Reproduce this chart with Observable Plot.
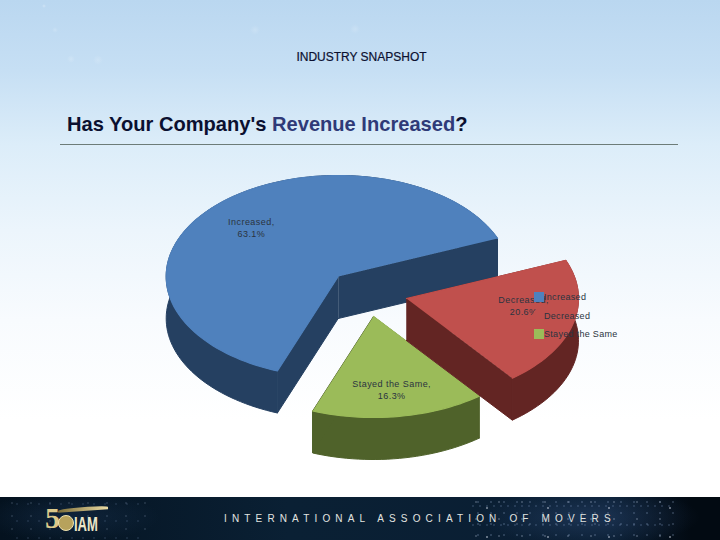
<!DOCTYPE html>
<html><head><meta charset="utf-8">
<script src="https://cdn.jsdelivr.net/npm/d3@7"></script>
<script src="https://cdn.jsdelivr.net/npm/@observablehq/plot@0.6"></script>
<style>
html,body{margin:0;padding:0}
body{position:relative;width:720px;height:540px;overflow:hidden;font-family:"Liberation Sans",Arial,sans-serif;
 background:
  radial-gradient(circle 5px at 98px 60px,rgba(255,255,255,.16),transparent),
  radial-gradient(circle 5px at 355px 29px,rgba(255,255,255,.16),transparent),
  radial-gradient(circle 4px at 71px 59px,rgba(255,255,255,.18),transparent),
  radial-gradient(circle 3px at 55px 30px,rgba(255,255,255,.18),transparent),
  radial-gradient(circle 5px at 255px 30px,rgba(255,255,255,.16),transparent),
  radial-gradient(circle 2px at 44px 6px,rgba(255,255,255,.3),transparent),
  linear-gradient(180deg,#bad7f0 0px,#c6dff4 70px,#dcedf9 145px,#ecf5fc 230px,#f8fbfe 320px,#ffffff 420px);}
#head{height:145px;position:relative}
#kicker{position:absolute;left:0;width:723px;top:50px;text-align:center;font-size:12px;line-height:15px;color:#0b1030;-webkit-text-stroke:.2px #0b1030}
#title{position:absolute;left:67px;top:113px;font-size:20.1px;line-height:22px;font-weight:bold;color:#0b1030;white-space:nowrap}
#title span{color:#2f3a78}
#rule{position:absolute;left:60px;top:144px;width:618px;height:1px;background:#6d7c78}
#legend{position:absolute;left:534px;top:288px;font-size:9px;letter-spacing:.3px;color:#2b3440}
#legend div{display:flex;align-items:center;height:18.5px}
#legend i{display:block;width:10px;height:10px;margin-right:0}
#chart svg{display:block}
#foot{position:absolute;left:0;top:497px;width:720px;height:43px;overflow:hidden;
 background:
  radial-gradient(ellipse 110px 30px at 590px 20px,rgba(60,90,140,.35),transparent),
  radial-gradient(ellipse 90px 25px at 70px 20px,rgba(40,70,110,.3),transparent),
  linear-gradient(90deg,#04121f 0,#0a2034 40%,#0a1e33 85%,#020a12 96%,#020a12 100%);}
#stars{position:absolute;left:470px;top:0;width:205px;height:43px;opacity:.75;
 background:
  radial-gradient(circle 1px at 6px 5px,#d4e0f5,transparent) 0 0/23px 17px,
  radial-gradient(circle 1px at 3px 3px,#9db4d8,transparent) 5px 2px/13px 11px,
  radial-gradient(circle 1.5px at 8px 8px,#eef4ff,transparent) 9px 3px/61px 29px,
  radial-gradient(circle 1px at 2px 2px,#7f98c0,transparent) 1px 7px/7px 19px;}
#stars2{position:absolute;left:8px;top:0;width:140px;height:43px;opacity:.5;
 background:
  radial-gradient(circle 1px at 4px 6px,#a9bcd8,transparent) 0 0/19px 13px,
  radial-gradient(circle 1px at 3px 3px,#7f98c0,transparent) 6px 4px/11px 17px;}
#org{position:absolute;left:224px;top:15px;font-size:10px;line-height:13px;letter-spacing:5.15px;color:#e2e4e0;white-space:nowrap;font-family:"Liberation Sans",sans-serif}
#five{position:absolute;left:45px;top:6px;font:bold 30px/30px "Liberation Serif",serif;color:#dcc98a}
#globe{position:absolute;left:58px;top:18px;width:16px;height:16px;border-radius:50%;background:#b7a25c;border:1px solid #efe3b0;box-sizing:border-box}
#iam{position:absolute;left:74px;top:16px;font:bold 21px/21px "Liberation Sans",sans-serif;color:#ece6c8;transform:scaleX(.62);transform-origin:0 0}
#swoosh{position:absolute;left:58px;top:10px;width:50px;height:4px;border-radius:60% 40% 0 0;background:linear-gradient(90deg,#7d6e38,#ecdca4);transform:rotate(-4deg)}
</style></head>
<body>
<div id="head">
 <div id="kicker">INDUSTRY SNAPSHOT</div>
 <div id="title">Has Your Company's <span>Revenue Increased</span>?</div>
 <div id="rule"></div>
</div>
<div id="chart"></div>
<div id="legend"></div>
<div id="foot">
 <div id="stars"></div><div id="stars2"></div>
 <div id="swoosh"></div><div id="five">5</div><div id="globe"></div><div id="iam">IAM</div>
 <div id="org">INTERNATIONAL ASSOCIATION OF MOVERS</div>
</div>
<script>
const categories = ["Increased", "Decreased", "Stayed the Same"];
const shares = [63.1, 20.6, 16.3];
const topColors = ["#4f81bd", "#c0504d", "#9bbb59"];
const sideColors = ["#254061", "#632523", "#4f622a"];

// Pie geometry, in radius units of the tilted pie
const firstAngle = 200.7;          // degrees clockwise from 12 o'clock
const explodeX = [0.004, 0.401, 0.209];
const explodeY = [0, 0.218, 0.396];
const depth = 0.416;
const labelRadius = 0.705;
const labelNudgeY = [0, -0.115, 0.02];

const rad = d => d * Math.PI / 180;
let start = firstAngle;
const slices = categories.map((category, i) => {
  const sweep = shares[i] * 3.6, from = start;
  start += sweep;
  const n = Math.ceil(sweep / 2);
  const arc = d3.range(n + 1).map(k => {
    const a = rad(from + sweep * k / n);
    return {x: explodeX[i] + Math.sin(a), y: explodeY[i] - Math.cos(a)};
  });
  const apex = {x: explodeX[i], y: explodeY[i]};
  const mid = rad(from + sweep / 2);
  return {category, i, apex, arc,
    lx: explodeX[i] + labelRadius * Math.sin(mid),
    ly: explodeY[i] - labelRadius * Math.cos(mid) + labelNudgeY[i],
    label: `${category},\n${shares[i].toFixed(1)}%`};
});

const topRows = s => [s.apex, ...s.arc].map(p => ({...p, category: s.category}));
// Side walls: the rim band and the two cut faces, overlapping slightly at the joins
const low = p => ({x: p.x, y: p.y + depth});
const sideRows = s => {
  const first = s.arc[0], last = s.arc[s.arc.length - 1];
  return [
    ...[...s.arc, ...s.arc.map(low).reverse()].map(p => ({...p, q: "rim"})),
    ...[s.apex, first, low(first), low(s.apex)].map(p => ({...p, q: "cutA"})),
    ...[s.apex, last, low(last), low(s.apex)].map(p => ({...p, q: "cutB"}))
  ];
};
// Draw order: large slice first, then green, then red in front of it
const order = [0, 2, 1];
const marks = order.flatMap(i => {
  const s = slices[i];
  return [
    Plot.line(sideRows(s), {x: "x", y: "y", z: "q", fill: sideColors[i], stroke: sideColors[i], strokeWidth: 1, curve: "linear"}),
    Plot.line(topRows(s), {x: "x", y: "y", fill: "category", stroke: "category", strokeWidth: 1.2, curve: "linear"})
  ];
});

const rx = 172, ry = 101, cx = 337, cy = 131, H = 352;
const chart = Plot.plot({
  width: 720, height: H, margin: 0,
  style: {background: "none", overflow: "visible"},
  x: {domain: [-cx / rx, (720 - cx) / rx], range: [0, 720], axis: null},
  y: {domain: [-cy / ry, (H - cy) / ry], range: [0, H], axis: null},
  color: {domain: categories, range: topColors},
  marks: [
    ...marks,
    Plot.text(slices, {x: "lx", y: "ly", text: "label", fontSize: 9, lineHeight: 1.33,
      fontFamily: "Liberation Sans", fill: "#2b3440"})
  ]
});
chart.querySelectorAll("text").forEach(t => t.style.letterSpacing = ".45px");
document.getElementById("chart").append(chart);

const legend = document.getElementById("legend");
categories.forEach((c, i) => {
  const row = document.createElement("div");
  const sw = document.createElement("i");
  sw.style.background = topColors[i];
  row.append(sw, c);
  legend.append(row);
});
</script>
</body></html>
